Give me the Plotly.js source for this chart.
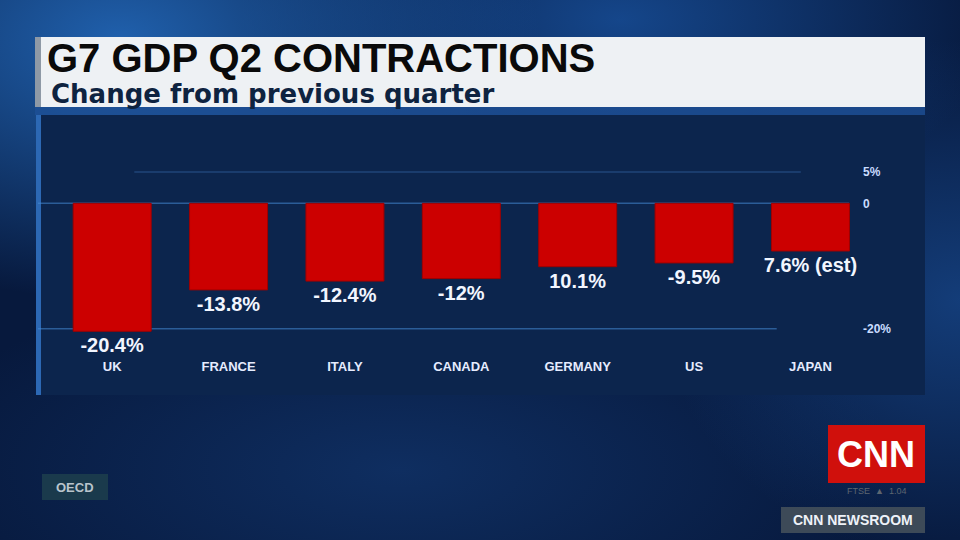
<!DOCTYPE html>
<html>
<head>
<meta charset="utf-8">
<script src="https://cdn.plot.ly/plotly-3.0.1.min.js"></script>
<style>
  html, body { margin:0; padding:0; width:960px; height:540px; overflow:hidden; }
  body {
    background:
      radial-gradient(ellipse 420px 260px at 120px 40px, rgba(40,120,210,0.75), rgba(40,120,210,0) 100%),
      radial-gradient(ellipse 380px 200px at 620px 20px, rgba(30,100,190,0.6), rgba(30,100,190,0) 100%),
      radial-gradient(ellipse 300px 260px at 960px 300px, rgba(30,90,170,0.55), rgba(30,90,170,0) 100%),
      radial-gradient(ellipse 500px 200px at 400px 470px, rgba(20,60,120,0.6), rgba(20,60,120,0) 100%),
      #07193d;
  }
  #chart { width:960px; height:540px; }
</style>
</head>
<body>
<div id="chart"></div>
<script>
// ---- data ----
const countries = ["UK", "FRANCE", "ITALY", "CANADA", "GERMANY", "US", "JAPAN"];
const gdpChange = [-20.4, -13.8, -12.4, -12.0, -10.1, -9.5, -7.6];
const valueLabels = ["-20.4%", "-13.8%", "-12.4%", "-12%", "10.1%", "-9.5%", "7.6% (est)"];
const tickValues = [5, 0, -20];
const tickLabels = ["5%", "0", "-20%"];
const titleText = "G7 GDP Q2 CONTRACTIONS";
const subtitleText = "Change from previous quarter";
const sourceText = "OECD";

const FONT = "Liberation Sans, Arial, sans-serif";
const WIDE = "DejaVu Sans, Liberation Sans, sans-serif";

// helpers to convert screen pixel positions of decorations into domain fractions
const PL = 54, PW = 803, PB = 540 - 183, PH = 207;
const fx = px => (px - PL) / PW;
const fy = py => (PB - py) / PH;

const trace = {
  type: "bar",
  x: countries,
  y: gdpChange,
  text: valueLabels,
  textposition: "outside",
  constraintext: "none",
  cliponaxis: false,
  textfont: { family: FONT, size: 20, color: "#f2f6ff", weight: "bold" },
  marker: { color: "#cc0000", line: { color: "#a00000", width: 1 } },
  hoverinfo: "skip"
};

const gridShapes = tickValues.map((v, i) => ({
  type: "line", xref: "paper", yref: "y",
  x0: i === 0 ? 0.1 : -0.02, x1: i === 0 ? 0.93 : (i === 1 ? 0.99 : 0.9),
  y0: v, y1: v,
  line: { color: i === 0 ? "rgba(70,130,200,0.35)" : "rgba(70,140,215,0.55)", width: 1.5 },
  layer: "below"
}));

const rect = (x0, x1, y0, y1, color) => ({
  type: "rect", xref: "x domain", yref: "y domain", layer: "below",
  x0: fx(x0), x1: fx(x1), y0: fy(y1), y1: fy(y0), fillcolor: color, line: { width: 0 }
});

const layout = {
  width: 960, height: 540,
  paper_bgcolor: "rgba(0,0,0,0)",
  plot_bgcolor: "rgba(0,0,0,0)",
  margin: { l: 54, r: 103, t: 150, b: 183 },
  showlegend: false,
  bargap: 0.33,
  title: {
    text: "<b>" + titleText + "</b>",
    x: 47 / 960, xanchor: "left", xref: "container",
    y: 1 - 72 / 540, yanchor: "bottom", yref: "container",
    font: { family: FONT, size: 40, color: "#0a0a0a" },
    pad: { t: 0, b: 0, l: 0, r: 0 }
  },
  xaxis: {
    type: "category",
    range: [-0.5, 6.4],
    showgrid: false, zeroline: false, showline: false,
    ticks: "",
    tickfont: { family: FONT, size: 13, color: "#e6ecff", weight: "bold" },
    fixedrange: true
  },
  yaxis: {
    range: [-24.5, 8.5],
    side: "right",
    tickvals: tickValues,
    ticktext: tickLabels,
    ticks: "",
    ticklabelstandoff: 5,
    showgrid: false, zeroline: false, showline: false,
    tickfont: { family: FONT, size: 12, color: "#c9dcff", weight: "bold" },
    fixedrange: true
  },
  shapes: [
    rect(35, 925, 37, 107, "#eef1f4"),        // title banner
    rect(35, 41, 37, 107, "#8e99a6"),         // banner left edge
    rect(35, 925, 107, 115, "rgba(30,80,150,0.8)"),
    rect(40, 925, 115, 395, "#0c254d"),       // chart panel
    rect(36, 41, 115, 395, "#2c68b4"),        // panel left edge
    rect(42, 108, 474, 500, "#1a3a4c"),       // OECD box
    rect(828, 925, 425, 483, "#d0100c"),      // CNN logo
    rect(781, 925, 507, 533, "#3d4a58")       // CNN NEWSROOM box
  ].concat(gridShapes),
  annotations: [
    { text: "<b>" + subtitleText + "</b>", xref: "paper", yref: "paper",
      x: fx(49), y: fy(94), xanchor: "left", yanchor: "middle",
      showarrow: false, font: { family: WIDE, size: 26, color: "#0e2340" } },
    { text: "<b>" + sourceText + "</b>", xref: "paper", yref: "paper",
      x: fx(75), y: fy(487), xanchor: "center", yanchor: "middle",
      showarrow: false, font: { family: FONT, size: 13, color: "#b9c4cc" } },
    { text: "<b>CNN</b>", xref: "paper", yref: "paper",
      x: fx(876), y: fy(454), xanchor: "center", yanchor: "middle",
      showarrow: false, font: { family: FONT, size: 36, color: "#ffffff" } },
    { text: "FTSE  ▲  1.04", xref: "paper", yref: "paper",
      x: fx(876), y: fy(491), xanchor: "center", yanchor: "middle",
      showarrow: false, font: { family: FONT, size: 9, color: "#5d6670" } },
    { text: "<b>CNN NEWSROOM</b>", xref: "paper", yref: "paper",
      x: fx(853), y: fy(520), xanchor: "center", yanchor: "middle",
      showarrow: false, font: { family: FONT, size: 14, color: "#eef2f8" } }
  ]
};

Plotly.newPlot("chart", [trace], layout, { staticPlot: true, displayModeBar: false });
</script>
</body>
</html>
